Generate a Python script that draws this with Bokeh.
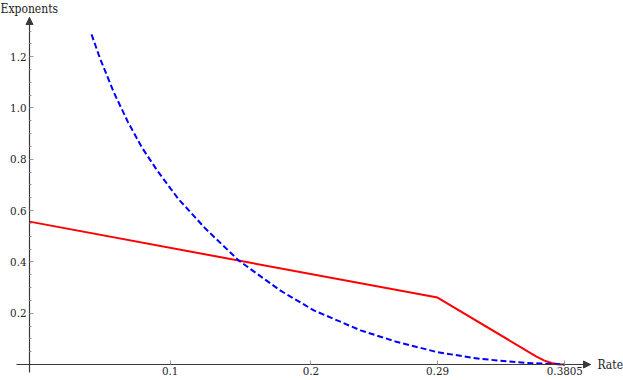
from bokeh.plotting import figure
from bokeh.models import (Range1d, FixedTicker, Label, Arrow, NormalHead)
from bokeh.embed import file_html
from bokeh.resources import INLINE

# ---- data ----
red_x = [0.0, 0.29, 0.36, 0.366, 0.371, 0.376, 0.3805]
red_y = [0.557, 0.261, 0.032, 0.015, 0.006, 0.001, 0.0]

blue_x = [0.0441, 0.050, 0.060, 0.070, 0.080, 0.0908, 0.1057, 0.125, 0.1488,
          0.1784, 0.2021, 0.2353, 0.26, 0.2898, 0.32, 0.3537, 0.3805]
blue_y = [1.287, 1.195, 1.060, 0.945, 0.845, 0.756, 0.646, 0.530, 0.405,
          0.288, 0.211, 0.133, 0.090, 0.048, 0.022, 0.006, 0.0]

x_ticks = [0.1, 0.2, 0.29, 0.3805]
x_tick_labels = ["0.1", "0.2", "0.29", "0.3805"]
y_ticks = [0.2, 0.4, 0.6, 0.8, 1.0, 1.2]
y_tick_labels = ["0.2", "0.4", "0.6", "0.8", "1.0", "1.2"]
y_minor = [round(0.05 * i, 2) for i in range(1, 27) if i % 4 != 0]

x_label = "Rate"
y_label = "Exponents"

# ---- layout ----
W, H = 623, 380
x_axis_end = 0.3987
y_axis_end = 1.3528
x_axis_start = -0.0092
y_axis_start = -0.033

xr = Range1d(-0.020611, 0.422175)
yr = Range1d(-0.062378, 1.419103)

FONT = "DejaVu Serif Condensed"
AXIS_COL = "#3a3a3a"
TICK_COL = "#9a9a9a"
TXT_COL = "#222222"

p = figure(width=W, height=H, x_range=xr, y_range=yr,
           output_backend="svg", toolbar_location=None,
           min_border=0, min_border_left=0, min_border_right=0,
           min_border_top=0, min_border_bottom=0)
p.outline_line_color = None
p.grid.visible = False

# axes crossing at the origin
for ax in (p.xaxis[0], p.yaxis[0]):
    ax.fixed_location = 0
    ax.axis_line_color = AXIS_COL
    ax.axis_line_width = 1.2
    ax.major_tick_line_color = TICK_COL
    ax.minor_tick_line_color = TICK_COL
    ax.major_tick_out = 0
    ax.minor_tick_out = 0
    ax.major_label_text_font = FONT
    ax.major_label_text_font_size = "11.5px"
    ax.major_label_text_color = TXT_COL

xa = p.xaxis[0]
xa.ticker = FixedTicker(ticks=x_ticks, minor_ticks=[])
xa.major_label_overrides = dict(zip(x_ticks, x_tick_labels))
xa.major_tick_in = 4
xa.minor_tick_in = 0
xa.major_label_standoff = 2
xa.bounds = (x_axis_start, x_axis_end)

ya = p.yaxis[0]
ya.ticker = FixedTicker(ticks=y_ticks, minor_ticks=y_minor)
ya.major_label_overrides = dict(zip(y_ticks, y_tick_labels))
ya.major_tick_in = 4
ya.minor_tick_in = 2
ya.major_label_standoff = 3
ya.bounds = (y_axis_start, y_axis_end)

# arrow heads at axis ends
p.add_layout(Arrow(end=NormalHead(size=7, fill_color=AXIS_COL, line_color=AXIS_COL),
                   x_start=x_axis_end - 0.01, y_start=0, x_end=x_axis_end, y_end=0,
                   line_alpha=0))
p.add_layout(Arrow(end=NormalHead(size=7, fill_color=AXIS_COL, line_color=AXIS_COL),
                   x_start=0, y_start=y_axis_end - 0.04, x_end=0, y_end=y_axis_end,
                   line_alpha=0))

# curves
p.line(red_x, red_y, line_color="#ff0000", line_width=2)
p.line(blue_x, blue_y, line_color="#0000ff", line_width=2, line_dash="6 3")

# axis labels
p.add_layout(Label(x=x_axis_end, y=0, x_offset=7, text=x_label,
                   text_font=FONT, text_font_size="12px", text_color=TXT_COL,
                   text_baseline="middle", text_align="left"))
p.add_layout(Label(x=0, y=H - 1, x_units="screen", y_units="screen", text=y_label,
                   text_font=FONT, text_font_size="12px", text_color=TXT_COL,
                   text_baseline="top", text_align="left"))

open("out.html", "w").write(file_html(p, INLINE))
